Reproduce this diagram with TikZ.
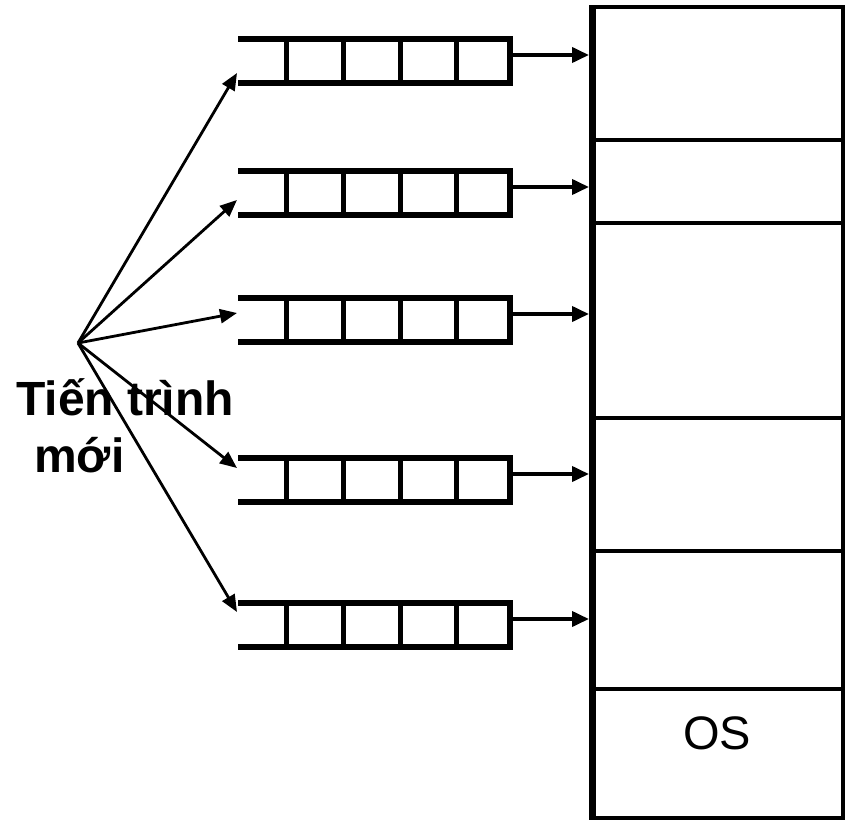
\documentclass[tikz,border=0pt]{standalone}
\usepackage{fontspec}
\setmainfont{Liberation Sans}
\usetikzlibrary{arrows.meta}

\begin{document}
\begin{tikzpicture}[x=1pt,y=-1pt,
  qline/.style={line width=6pt,line join=miter},
  qdiv/.style={line width=5pt},
  feed/.style={line width=2.8pt,-{Triangle[length=17pt,width=14pt]}},
  outarrow/.style={line width=3.8pt,-{Triangle[length=17pt,width=15pt]}},
  memline/.style={line width=3.5pt},
  lbl/.style={inner sep=0pt,font=\fontsize{47}{55}\selectfont},
  boldlbl/.style={inner sep=0pt,font=\bfseries\fontsize{48}{57}\selectfont},
]
\useasboundingbox (0,0) rectangle (845,821);

% origin of the new processes
\coordinate (src) at (78,343);

% memory partitions
\draw[memline] (592,7) rectangle (843,818);
\draw[line width=7pt] (592,5.25) -- (592,819.75);
\foreach \y in {140,223,418,551,689}
  \draw[memline] (592,\y) -- (843,\y);
\node[lbl,anchor=base] (os) at (717,749) {OS};

% the five queues: top edge y / inlet arrow tip y
\foreach \i/\t/\tip in {1/39/73, 2/171/200, 3/298/313, 4/458/468, 5/603/612} {
  \draw[qline] (238,\t) -- (510,\t) -- (510,\t+44) -- (238,\t+44);
  \foreach \x in {286,343,400,456}
    \draw[qdiv] (\x,\t) -- (\x,\t+44);
  \coordinate (qin\i) at (237,\tip);
  \coordinate (qout\i) at (510,\t+16);
  \coordinate (slot\i) at (589,\t+16);
  \draw[feed] (src) -- (qin\i);
  \draw[outarrow] (qout\i) -- (slot\i);
}

% label of the source
\node[boldlbl,anchor=base west] (lbla) at (16,415) {Tiến trình};
\node[boldlbl,anchor=base west] (lblb) at (34,472) {mới};
\end{tikzpicture}
\end{document}
